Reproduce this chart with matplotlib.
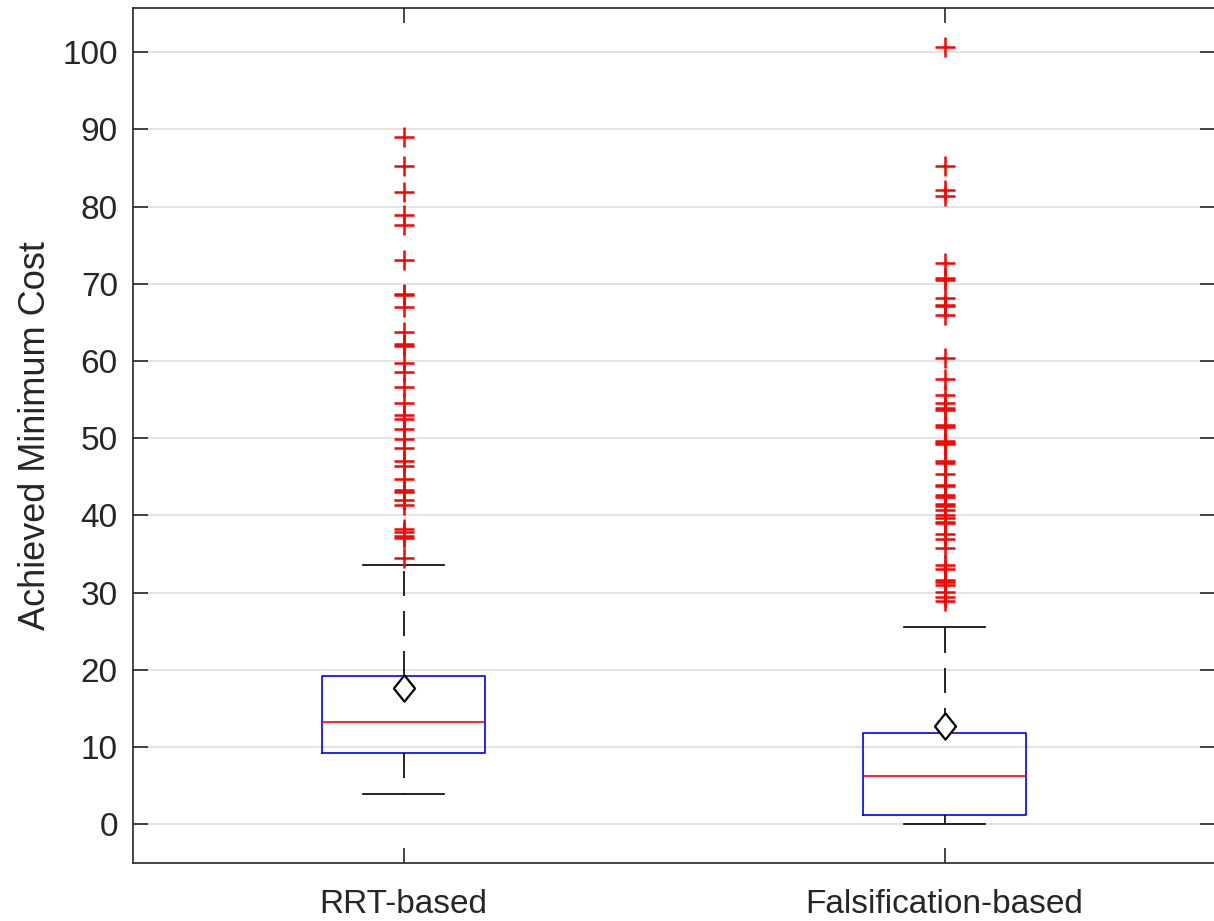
import matplotlib
matplotlib.use("Agg")
import matplotlib.pyplot as plt
import numpy as np

plt.rcParams["font.family"] = ["Liberation Sans", "DejaVu Sans"]

# Box statistics
labels    = ["RRT-based", "Falsification-based"]
q1        = [9.3, 1.2]
med       = [13.2, 6.3]
q3        = [19.15, 11.8]
whislo    = [3.9, 0.0]
whishi    = [33.6, 25.5]
means     = [17.6, 12.7]

fliers_rrt = [89.0, 85.3, 81.9, 78.9, 77.6, 73.1, 68.7, 68.5, 67.0, 63.7,
              62.2, 61.9, 59.7, 58.6, 56.6, 54.5, 53.0, 52.5, 51.2, 49.9,
              48.7, 47.0, 46.4, 44.7, 43.3, 43.0, 42.0, 41.3, 38.3, 37.9,
              37.3, 37.1, 34.5]
fliers_fal = [100.7, 85.3, 82.2, 81.3, 72.7, 70.8, 70.5, 68.2, 67.3, 67.1,
              65.9, 60.4, 57.7, 55.6, 54.5, 53.9, 53.6, 51.7, 51.4, 49.7,
              49.4, 49.2, 47.1, 46.8, 45.3, 44.0, 43.8, 42.7, 42.4, 41.5,
              41.2, 40.7, 40.1, 39.7, 39.2, 39.0, 37.6, 37.0, 35.8, 33.6,
              33.0, 31.7, 31.4, 31.0, 30.1, 29.5, 28.9]
fliers = [fliers_rrt, fliers_fal]

yticks = np.arange(0, 101, 10)

stats = []
for i in range(len(labels)):
     stats.append({"label": labels[i], "q1": q1[i], "med": med[i], "q3": q3[i],
                   "whislo": whislo[i], "whishi": whishi[i], "mean": means[i],
                   "fliers": np.array(fliers[i])})

# MATLAB-like diamond, a little taller than wide
diamond = [(0, 1), (0.8, 0), (0, -1), (-0.8, 0), (0, 1)]

fig = plt.figure(figsize=(12.14, 9.21), dpi=100)
ax = fig.add_axes([0.1096, 0.063, 0.8913, 0.9283])

ax.yaxis.grid(True, color="#e0e0e0", linewidth=1.3, zorder=0)
ax.set_axisbelow(True)

ax.bxp(stats, positions=[1, 2], widths=0.3, showmeans=True,
       boxprops=dict(color="#0000ff", linewidth=1.2),
       medianprops=dict(color="#ff0000", linewidth=1.2),
       whiskerprops=dict(color="black", linewidth=1.2, linestyle=(0, (15, 9))),
       capprops=dict(color="black", linewidth=1.2),
       capwidths=0.15,
       flierprops=dict(marker="+", markeredgecolor="#ff0000", markersize=15,
                       markeredgewidth=1.8, linestyle="none"),
       meanprops=dict(marker=diamond, markerfacecolor="white", markeredgecolor="black",
                      markersize=19, markeredgewidth=1.6))

ax.set_xlim(0.5, 2.5)
ax.set_ylim(-5, 105.7)
ax.set_yticks(yticks)
ax.set_xticks([1, 2])
ax.set_xticklabels(labels)

for s in ax.spines.values():
     s.set_color("#262626")
     s.set_linewidth(1.2)

ax.tick_params(axis="both", direction="in", length=11, width=1.2, color="#262626",
               labelsize=24, labelcolor="#262626", top=True, right=True)
ax.tick_params(axis="x", pad=19)
ax.tick_params(axis="y", pad=11)
ax.set_ylabel("Achieved Minimum Cost", fontsize=26, color="#262626", labelpad=7)

fig.savefig("out.png", dpi=100)
